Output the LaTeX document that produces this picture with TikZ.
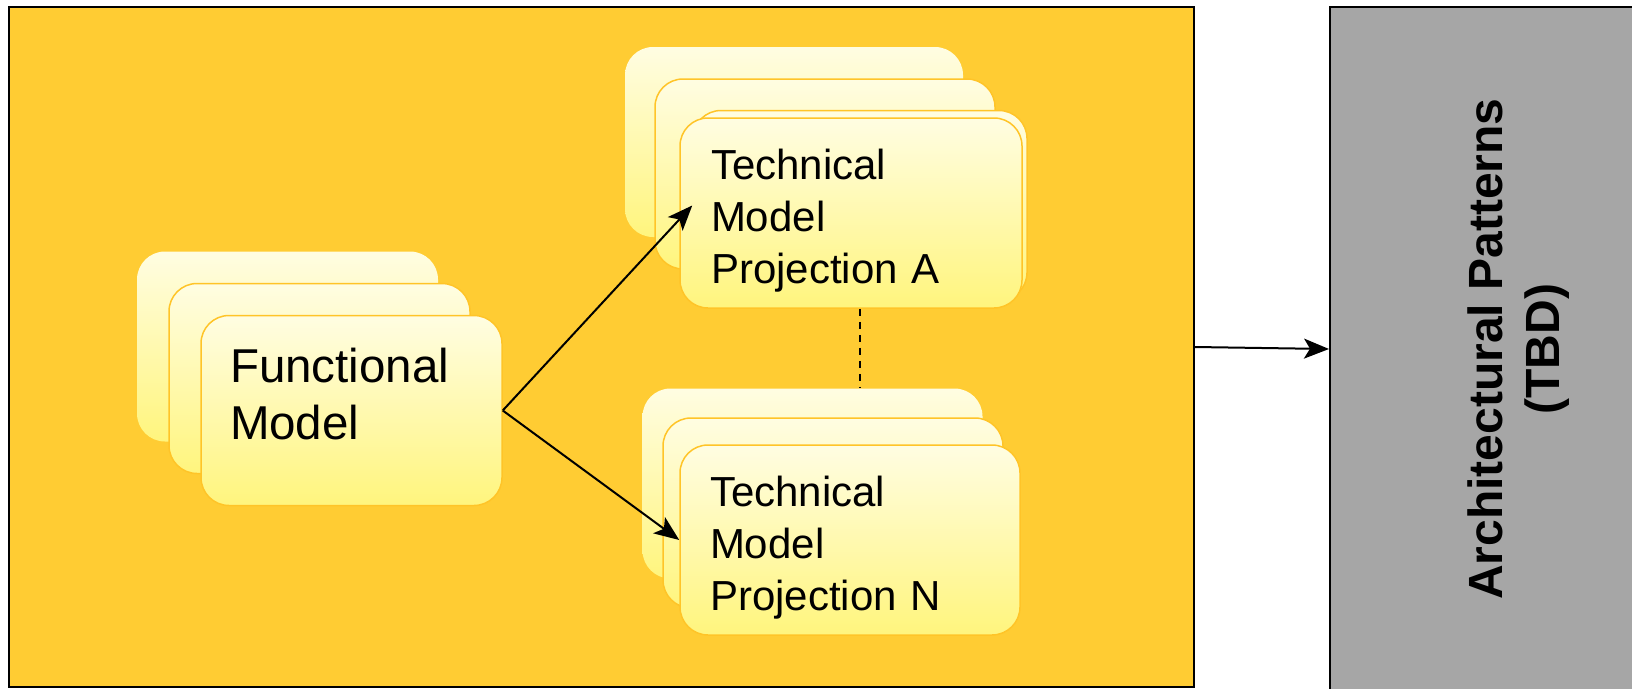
\documentclass[tikz,border=0pt]{standalone}
\usepackage{fontspec}
\setmainfont{Liberation Sans}
\usepackage{tikz}
\usetikzlibrary{calc}
\usetikzlibrary{arrows.meta}
\definecolor{frameyellow}{RGB}{255,204,51}
\definecolor{cardtop}{RGB}{255,253,226}
\definecolor{cardbot}{RGB}{255,245,125}
\definecolor{cardedge}{RGB}{255,196,40}
\definecolor{patterngray}{RGB}{166,166,166}
\tikzset{card/.style={rectangle,rounded corners=28pt,top color=cardtop,bottom color=cardbot,line width=1.5pt,minimum height=190pt},
fmtext/.style={font=\fontsize{47.5}{57}\selectfont,align=left,text width=243pt,inner xsep=29pt,text height=34pt,text depth=91pt},
techtext/.style={font=\fontsize{42}{52}\selectfont,align=left,text width=280pt,inner xsep=30pt,text height=30pt,text depth=97pt},
arr/.style={-{Stealth[length=25pt,width=20pt,inset=6pt]}}}

\begin{document}
\begin{tikzpicture}[x=1pt, y=-1pt, line width=2pt]
\useasboundingbox (0,0) rectangle (1632,688);
\node (frame) at (601.5,347) [draw, fill=frameyellow, minimum width=1185pt, minimum height=680pt] {};
\node (arch) at (1519,349) [draw, fill=patterngray, rotate=90, minimum width=684pt, minimum height=378pt, align=center, font=\bfseries\fontsize{48}{57}\selectfont] {Architectural Patterns\\(TBD)};
% functional model
\foreach \n/\x/\y/\c in {fm3/287.5/346.5/none, fm2/319.5/378.5/cardedge}
\node (\n) at (\x,\y) [card, minimum width=301pt, draw=\c] {};
\node (fm) at (351.5,410.5) [card, minimum width=301pt, draw=cardedge, fmtext] {Functional\\Model};
% projection A
\foreach \n/\x/\y/\w/\c in {ta4/794/142/338/none, ta3/825/174/340/cardedge, ta2/860/205.5/334/cardedge}
\node (\n) at (\x,\y) [card, minimum width=\w pt, draw=\c] {};
\node (ta) at (851,213) [card, minimum width=342pt, draw=cardedge, techtext] {Technical\\Model\\Projection A};
% projection N
\foreach \n/\x/\y/\c in {tn3/812.5/483.5/none, tn2/833/513/cardedge}
\node (\n) at (\x,\y) [card, minimum width=340pt, draw=\c] {};
\node (tn) at (850,540) [card, minimum width=340pt, draw=cardedge, techtext] {Technical\\Model\\Projection N};
\draw[arr] (fm.east) -- (ta2.west);
\draw[arr] (fm.east) -- (tn.west);
\draw[dash pattern=on 7pt off 6pt] (ta.south -| ta2.south) -- (tn3.north -| ta2.south);
\draw[arr] (frame.east) -- (arch.north);
\end{tikzpicture}
\end{document}
